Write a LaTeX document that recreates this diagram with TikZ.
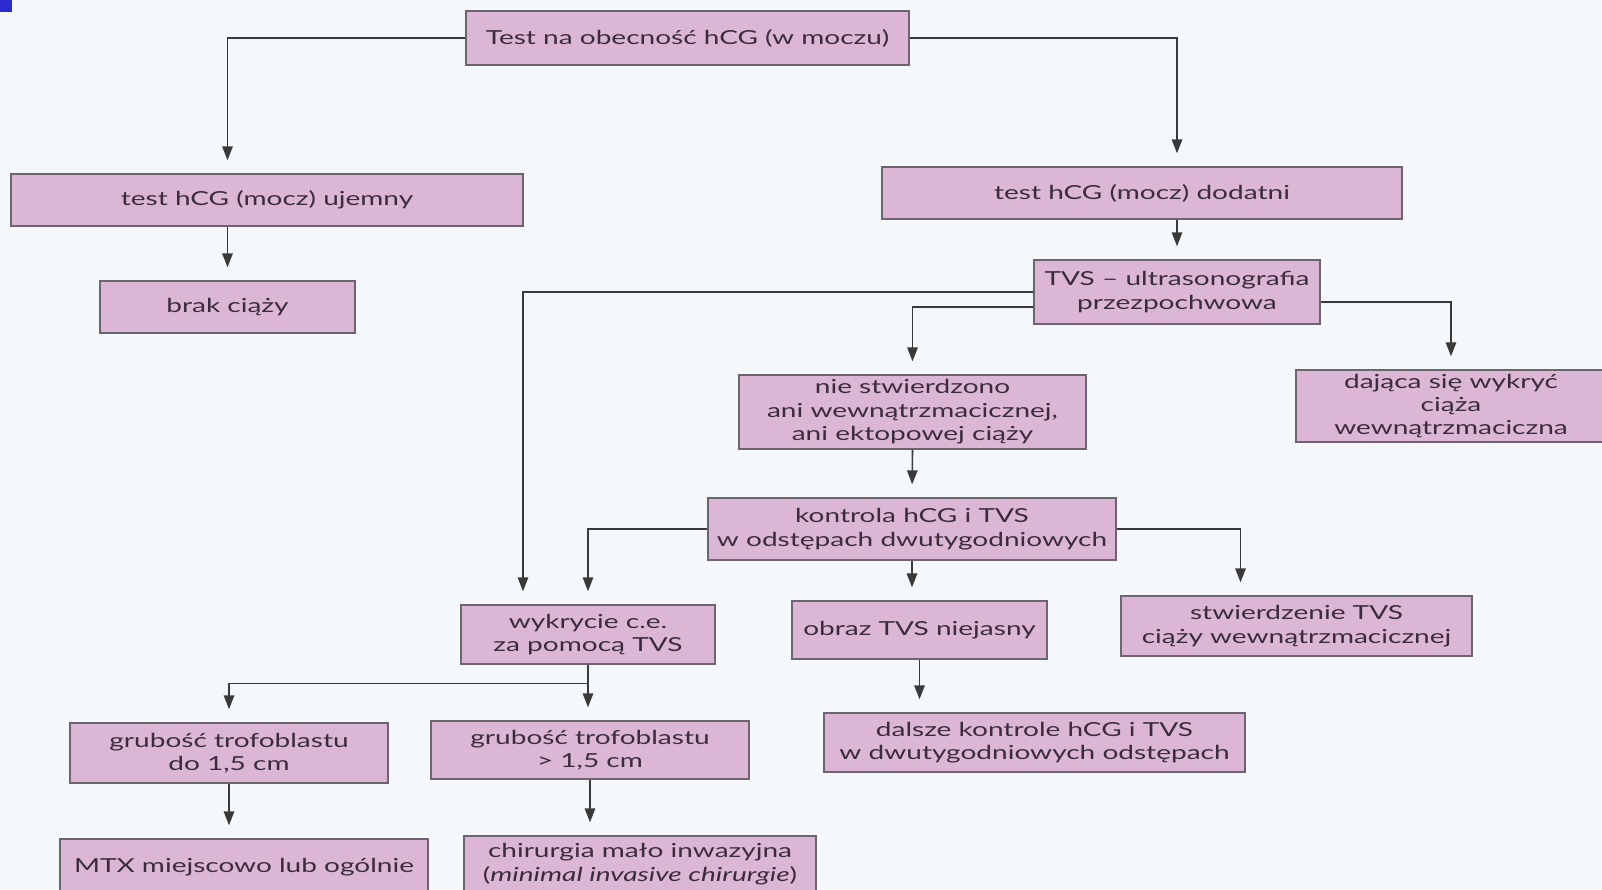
\documentclass[tikz,border=0pt]{standalone}
\usepackage{fontspec}
\setmainfont[FakeStretch=1.45]{Lato}
\usepackage{tikz}
\usetikzlibrary{arrows.meta, calc, positioning}
\usepackage{xcolor}
\definecolor{boxfill}{HTML}{DBB7D5}
\definecolor{boxline}{HTML}{6E6470}
\definecolor{linec}{HTML}{3A3A3A}
\definecolor{txt}{HTML}{3B2C3C}
\definecolor{paper}{HTML}{F5F8FB}
\definecolor{bluemark}{HTML}{2B2BD0}
\tikzset{
  box/.style={draw=boxline, fill=boxfill, line width=0.8pt, align=center,
    inner sep=0pt, text=txt, font=\fontsize{11}{13.3}\selectfont},
  arr/.style={-{Triangle[length=0.28cm,width=0.21cm]}, draw=linec,
    line width=0.9pt, shorten >=0.26cm}
}

\begin{document}
\begin{tikzpicture}[x=0.02cm, y=-0.02cm]
\fill[paper] (0,0) rectangle (1602,889);
\useasboundingbox (0,0) rectangle (1602,889);
\fill[bluemark] (0,0) rectangle (12,12);

\node (top) [box, minimum width=8.86cm, minimum height=1.08cm] at (687.5,38) {Test na obecność hCG (w moczu)};
\node (ujemny) [box, minimum width=10.24cm, minimum height=1.04cm] at (267,200) {test hCG (mocz) ujemny};
\node (dodatni) [box, minimum width=10.4cm, minimum height=1.04cm] at (1142,193) {test hCG (mocz) dodatni};
\node (brak) [box, minimum width=5.1cm, minimum height=1.04cm] at (227.5,307) {brak ciąży};
\node (tvs) [box, minimum width=5.72cm, minimum height=1.28cm] at (1177,292) {TVS – ultrasonografia\\przezpochwowa};
\node (nie) [box, minimum width=6.94cm, minimum height=1.48cm] at (912.5,412) {nie stwierdzono\\ani wewnątrzmacicznej,\\ani ektopowej ciąży};
\node (dajaca) [box, minimum width=6.2cm, minimum height=1.44cm] at (1451,406) {dająca się wykryć\\ciąża\\wewnątrzmaciczna};
\node (kontrola) [box, minimum width=8.16cm, minimum height=1.24cm] at (912,529) {kontrola hCG i TVS\\w odstępach dwutygodniowych};
\node (wykrycie) [box, minimum width=5.08cm, minimum height=1.18cm] at (588,634.5) {wykrycie c.e.\\za pomocą TVS};
\node (obraz) [box, minimum width=5.1cm, minimum height=1.16cm] at (919.5,630) {obraz TVS niejasny};
\node (stwierdzenie) [box, minimum width=7.02cm, minimum height=1.2cm] at (1296.5,626) {stwierdzenie TVS\\ciąży wewnątrzmacicznej};
\node (gr1) [box, minimum width=6.36cm, minimum height=1.2cm] at (229,753) {grubość trofoblastu\\do 1,5 cm};
\node (gr2) [box, minimum width=6.36cm, minimum height=1.16cm] at (590,750) {grubość trofoblastu\\> 1,5 cm};
\node (dalsze) [box, minimum width=8.42cm, minimum height=1.18cm] at (1034.5,742.5) {dalsze kontrole hCG i TVS\\w dwutygodniowych odstępach};
\node (mtx) [box, minimum width=7.36cm, minimum height=1.12cm] at (244,867) {MTX miejscowo lub ogólnie};
\node (chir) [box, minimum width=7.04cm, minimum height=1.12cm] at (640,864) {chirurgia mało inwazyjna\\(\textit{minimal invasive chirurgie})};

\draw[arr] (top.west) -| (ujemny.north -| brak.north);
\draw[arr] (top.east) -| (dodatni.north -| tvs.north);
\draw[arr] (brak.north |- ujemny.south) -- (brak.north);
\draw[arr] (tvs.north |- dodatni.south) -- (tvs.north);
\draw[arr] (tvs.west) -| ($(wykrycie.north)+(-65,0)$);
\draw[arr] ($(tvs.west)+(0,15)$) -| (nie.north);
\draw[arr] ($(tvs.east)+(0,10)$) -| (dajaca.north);
\draw[arr] (nie.south) -- (kontrola.north);
\draw[arr] (kontrola.west) -| (wykrycie.north);
\draw[arr] (kontrola.south) -- (kontrola.south |- obraz.north);
\draw[arr] (kontrola.east) -| ($(stwierdzenie.north)+(-56,0)$);
\coordinate (split) at ($(wykrycie.south)+(0,19)$);
\draw[arr] (wykrycie.south) -- (split) -| (gr1.north);
\draw[arr] (split) -- (split |- gr2.north);
\draw[arr] (obraz.south) -- (obraz.south |- dalsze.north);
\draw[arr] (gr1.south) -- (gr1.south |- mtx.north);
\draw[arr] (gr2.south) -- (gr2.south |- chir.north);
\end{tikzpicture}
\end{document}
